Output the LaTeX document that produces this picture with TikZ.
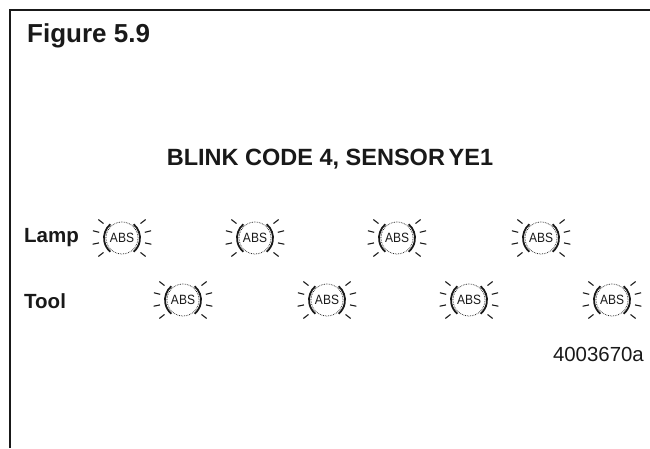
\documentclass[tikz,border=0pt]{standalone}
\usepackage{xcolor}
\usepackage{fontspec}
\setmainfont{Liberation Sans}
\usetikzlibrary{positioning}
\definecolor{PrintBlack}{RGB}{25, 25, 25}
\tikzset{
  boldlabel/.style={font=\fontsize{20.5}{22}\selectfont\bfseries, text=PrintBlack, inner sep=0pt},
  ray/.style={PrintBlack, line width=1.1pt},
  rim/.style={PrintBlack, line width=1.8pt},
  pics/abslamp/.style={code={
    \node[font=\fontsize{12}{13}\selectfont, text=PrintBlack, inner sep=0pt, yscale=1.12] (-txt) at (0,0) {ABS};
    \draw[PrintBlack, line width=0.7pt, densely dotted] (0,0) circle (16);
    \draw[rim] (130:18) arc (130:230:18);
    \draw[rim] (50:18) arc (50:-50:18);
    \foreach \a in {-38,-12,14,38,142,166,192,218}{
      \draw[ray] (\a:23.5) -- (\a:30);
    }
  }}
}
\begin{document}
\begin{tikzpicture}[x=1pt,y=1pt]
  \path[use as bounding box] (0,0) rectangle (650,448);
  \fill[white] (0,0) rectangle (650,448);
  \draw[PrintBlack, line width=2pt] (9.5,0) -- (9.5,437.5) -- (650,437.5);
  \node[anchor=base west, inner sep=0pt, text=PrintBlack, font=\fontsize{26}{28}\selectfont\bfseries] (figtitle) at (27,405) {Figure 5.9};
  \node[anchor=base, inner sep=0pt, text=PrintBlack, font=\fontsize{23.5}{26}\selectfont\bfseries] (codetitle) at (330,283) {BLINK CODE 4, SENSOR\hspace{-0.12em} YE1};
  \node[boldlabel, anchor=base west] (lamplabel) at (24,206) {Lamp};
  \node[boldlabel, anchor=base west] (toollabel) at (24,140) {Tool};
  \foreach \x in {122,255,397,541}{
    \pic (lamp\x) at (\x,210) {abslamp};
  }
  \foreach \x in {183,327,469,612}{
    \pic (tool\x) at (\x,148) {abslamp};
  }
  \node[anchor=base east, inner sep=0pt, text=PrintBlack, font=\fontsize{20.4}{22}\selectfont] (partno) at (644,87) {4003670a};
\end{tikzpicture}
\end{document}
